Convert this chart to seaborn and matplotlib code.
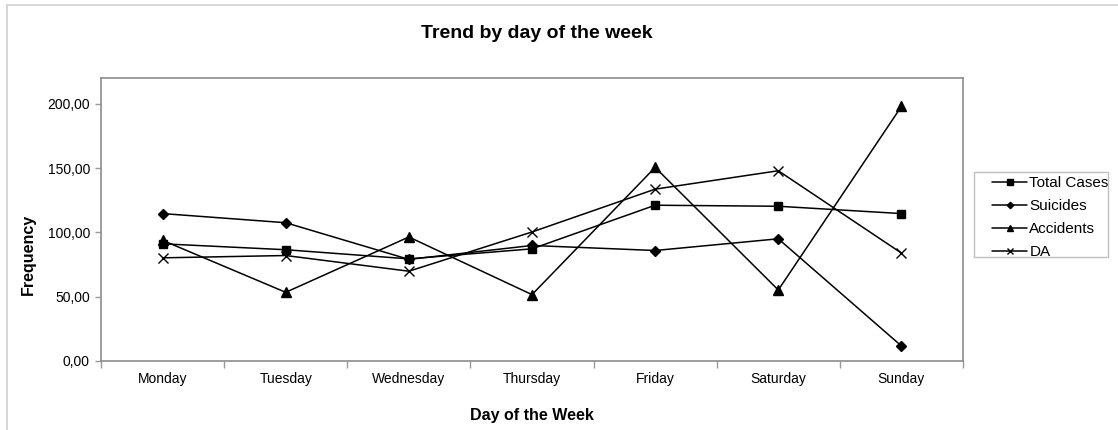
import matplotlib
matplotlib.use("Agg")
import matplotlib.pyplot as plt
from matplotlib.patches import Rectangle
import seaborn as sns
import pandas as pd
from matplotlib.ticker import FuncFormatter, MultipleLocator

days = ["Monday", "Tuesday", "Wednesday", "Thursday", "Friday", "Saturday", "Sunday"]
total_cases = [91.1, 86.5, 79.4, 87.2, 121.1, 120.3, 114.6]
suicides = [114.6, 107.5, 79.0, 89.8, 85.9, 95.0, 11.7]
accidents = [93.8, 53.4, 96.4, 51.6, 150.5, 55.2, 197.9]
da = [80.2, 82.0, 69.8, 100.3, 133.6, 147.9, 83.9]

series = {"Total Cases": total_cases, "Suicides": suicides,
          "Accidents": accidents, "DA": da}
markers = {"Total Cases": "s", "Suicides": "D", "Accidents": "^", "DA": "x"}
sizes = {"Total Cases": 6, "Suicides": 5, "Accidents": 7, "DA": 7}

rows = []
for name, vals in series.items():
    for i, v in enumerate(vals):
        rows.append({"pos": i, "day": days[i], "value": v, "series": name})
df = pd.DataFrame(rows)

sns.set_style("white")
plt.rcParams["font.family"] = ["Liberation Sans", "DejaVu Sans"]
plt.rcParams["text.color"] = "black"
plt.rcParams["axes.labelcolor"] = "black"
plt.rcParams["xtick.color"] = "black"
plt.rcParams["ytick.color"] = "black"

W, H = 1118, 430
fig = plt.figure(figsize=(W / 100, H / 100), dpi=100)
ax = fig.add_axes([101 / W, 1 - 361 / H, 862 / W, 283 / H])

for name in series:
    sub = df[df["series"] == name]
    sns.lineplot(data=sub, x="pos", y="value", ax=ax, color="black",
                 linewidth=1.1, marker=markers[name], markersize=sizes[name],
                 markeredgecolor="black", markerfacecolor="black",
                 markeredgewidth=1.0, label=name)

ax.set_xlim(-0.5, len(days) - 0.5)
ax.set_ylim(0, 220)
ax.yaxis.set_major_locator(MultipleLocator(50))
ax.yaxis.set_major_formatter(FuncFormatter(lambda v, p: f"{v:.2f}".replace(".", ",")))

ax.set_xticks(range(len(days)))
ax.set_xticklabels(days)
ax.set_xticks([i + 0.5 for i in range(-1, len(days))], minor=True)
ax.tick_params(axis="x", which="major", length=0, pad=8, labelsize=10)
ax.tick_params(axis="x", which="minor", length=5, color="#999999", width=1.0,
               direction="out", bottom=True)
ax.tick_params(axis="y", which="major", length=4, color="#999999", width=1.0,
               direction="out", labelsize=10, pad=4, left=True)

for s in ax.spines.values():
    s.set_color("#8c8c8c")
    s.set_linewidth(1.2)
    s.set_visible(True)

ax.set_xlabel("Day of the Week", fontsize=11.5, fontweight="bold", labelpad=16)
ax.set_ylabel("Frequency", fontsize=11.5, fontweight="bold")
ax.yaxis.set_label_coords((36 - 101) / 862, (361 - 254) / 283)
fig.text(537 / W, 1 - 33.5 / H, "Trend by day of the week", ha="center", va="center",
         fontsize=14, fontweight="bold")

# legend entries with a separately drawn frame
leg = ax.legend(loc="upper left", bbox_to_anchor=(992 / W, 1 - 176 / H),
                bbox_transform=fig.transFigure, borderaxespad=0, borderpad=0,
                frameon=False, fontsize=11, handlelength=2.3, handletextpad=0.15,
                labelspacing=0.6, markerscale=0.65)
fig.patches.append(Rectangle((974 / W, 1 - 257 / H), 134 / W, 85 / H,
                             transform=fig.transFigure, fill=False,
                             edgecolor="#c0c0c0", linewidth=1.0))

# light frame around the whole chart
fig.patches.append(Rectangle((7 / W, -0.01), 1.2, 1 - 5 / H + 0.01,
                             transform=fig.transFigure, fill=False,
                             edgecolor="#d0d0d0", linewidth=1.2))

fig.savefig("out.png", dpi=100)
